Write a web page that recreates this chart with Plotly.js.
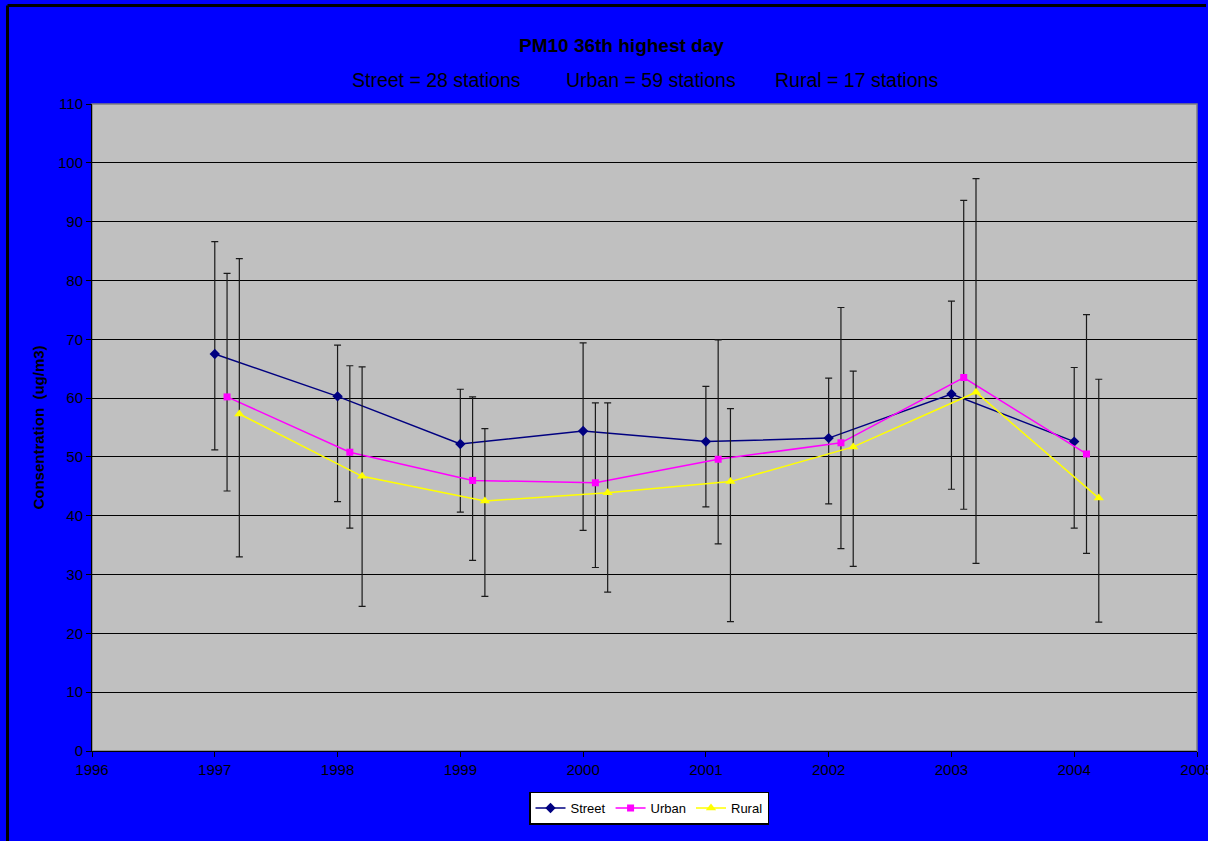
<!DOCTYPE html>
<html>
<head>
<meta charset="utf-8">
<script src="https://cdn.plot.ly/plotly-3.0.1.min.js"></script>
<style>
  html, body { margin: 0; padding: 0; background: #0000FF; overflow: hidden; }
  #chart { width: 1208px; height: 841px; }
</style>
</head>
<body>
<div id="chart"></div>
<script>
// ---- Data ----
const years = [1997, 1998, 1999, 2000, 2001, 2002, 2003, 2004];

const streetValue = [67.5, 60.3, 52.2, 54.4, 52.6, 53.2, 60.7, 52.6];
const streetHigh  = [86.6, 69.0, 61.5, 69.4, 62.0, 63.4, 76.5, 65.2];
const streetLow   = [51.2, 42.4, 40.6, 37.5, 41.5, 42.0, 44.5, 37.9];

const urbanValue = [60.2, 50.8, 46.0, 45.6, 49.6, 52.4, 63.5, 50.5];
const urbanHigh  = [81.2, 65.5, 60.2, 59.2, 69.9, 75.4, 93.6, 74.2];
const urbanLow   = [44.2, 37.9, 32.4, 31.2, 35.2, 34.4, 41.1, 33.6];

const ruralValue = [57.3, 46.7, 42.5, 43.9, 45.8, 51.7, 61.0, 43.0];
const ruralHigh  = [83.7, 65.3, 54.8, 59.2, 58.2, 64.6, 97.3, 63.2];
const ruralLow   = [33.0, 24.6, 26.3, 27.0, 22.0, 31.4, 31.9, 21.9];

const seriesNames = ["Street", "Urban", "Rural"];
const xTickValues = [1996, 1997, 1998, 1999, 2000, 2001, 2002, 2003, 2004, 2005];
const titleText = "PM10 36th highest day";
const subtitleTexts = ["Street = 28 stations", "Urban = 59 stations", "Rural = 17 stations"];
const yAxisTitle = "Consentration&nbsp;&nbsp;(ug/m3)";

// ---- Build traces ----
const FONT = "Liberation Sans, Arial, sans-serif";
function makeTrace(name, offset, vals, hi, lo, color, symbol, msize) {
  return {
    type: "scatter",
    mode: "lines+markers",
    name: name,
    x: years.map(y => y + offset),
    y: vals,
    line: { color: color, width: 1.5 },
    marker: { color: color, symbol: symbol, size: msize },
    error_y: {
      type: "data",
      symmetric: false,
      array: hi.map((h, i) => h - vals[i]),
      arrayminus: vals.map((v, i) => v - lo[i]),
      color: "#1a1a1a",
      thickness: 1.2,
      width: 3.5
    }
  };
}

const traces = [
  makeTrace(seriesNames[0], 0.0, streetValue, streetHigh, streetLow, "#000080", "diamond", 8),
  makeTrace(seriesNames[1], 0.1, urbanValue, urbanHigh, urbanLow, "#FF00FF", "square", 7),
  makeTrace(seriesNames[2], 0.2, ruralValue, ruralHigh, ruralLow, "#FFFF00", "triangle-up", 9)
];

// ---- Layout ----
const M = { l: 92, r: 11, t: 104, b: 90 };
const W = 1208, H = 841;
const PW = W - M.l - M.r, PH = H - M.t - M.b;
const px = v => (v - M.l) / PW;          // pixel x -> paper x
const py = v => (H - M.b - v) / PH;       // pixel y -> paper y

const layout = {
  width: W, height: H,
  margin: M,
  paper_bgcolor: "#0000FF",
  plot_bgcolor: "#C0C0C0",
  font: { family: FONT, color: "#000000", size: 15 },
  showlegend: true,
  legend: {
    orientation: "h",
    x: px(649), y: py(808), xanchor: "center", yanchor: "middle",
    bgcolor: "#FFFFFF", bordercolor: "#000000", borderwidth: 1.5,
    font: { family: FONT, size: 13, color: "#000000" },
    traceorder: "normal"
  },
  xaxis: {
    range: [1996, 2005],
    tickvals: xTickValues,
    ticktext: xTickValues.map(String),
    ticks: "outside", ticklen: 5, tickcolor: "#000000", tickwidth: 1,
    ticklabeloverflow: "allow",
    showgrid: false, zeroline: false,
    showline: true, linecolor: "#000000", linewidth: 1,
    tickfont: { family: FONT, size: 15, color: "#000000" },
    fixedrange: true
  },
  yaxis: {
    range: [0, 110],
    tick0: 0, dtick: 10,
    ticks: "outside", ticklen: 5, tickcolor: "#000000", tickwidth: 1,
    showgrid: true, gridcolor: "#000000", gridwidth: 1,
    zeroline: false,
    showline: true, linecolor: "#000000", linewidth: 1,
    tickfont: { family: FONT, size: 15, color: "#000000" },
    title: { text: "<b>" + yAxisTitle + "</b>", font: { family: FONT, size: 15, color: "#000000" }, standoff: 9 },
    fixedrange: true
  },
  shapes: [
    { type: "rect", xref: "paper", yref: "paper", x0: 0, x1: 1, y0: 0, y1: 1,
      line: { color: "#808080", width: 1.5 }, layer: "below" },
    { type: "line", xref: "paper", yref: "paper", x0: px(7.5), x1: px(7.5), y0: py(5.5), y1: py(900),
      line: { color: "#000000", width: 3 } },
    { type: "line", xref: "paper", yref: "paper", x0: px(7.5), x1: px(1206), y0: py(5.5), y1: py(5.5),
      line: { color: "#000000", width: 3 } }
  ],
  annotations: [
    { text: "<b>" + titleText + "</b>", xref: "paper", yref: "paper",
      x: px(621), y: py(46), xanchor: "center", yanchor: "middle", showarrow: false,
      font: { family: FONT, size: 19, color: "#000000" } },
    { text: subtitleTexts[0], xref: "paper", yref: "paper",
      x: px(436), y: py(80), xanchor: "center", yanchor: "middle", showarrow: false,
      font: { family: FONT, size: 19.5, color: "#000000" } },
    { text: subtitleTexts[1], xref: "paper", yref: "paper",
      x: px(651), y: py(80), xanchor: "center", yanchor: "middle", showarrow: false,
      font: { family: FONT, size: 19.5, color: "#000000" } },
    { text: subtitleTexts[2], xref: "paper", yref: "paper",
      x: px(856), y: py(80), xanchor: "center", yanchor: "middle", showarrow: false,
      font: { family: FONT, size: 19.5, color: "#000000" } }
  ]
};

Plotly.newPlot("chart", traces, layout, { displayModeBar: false, staticPlot: true });
</script>
</body>
</html>
